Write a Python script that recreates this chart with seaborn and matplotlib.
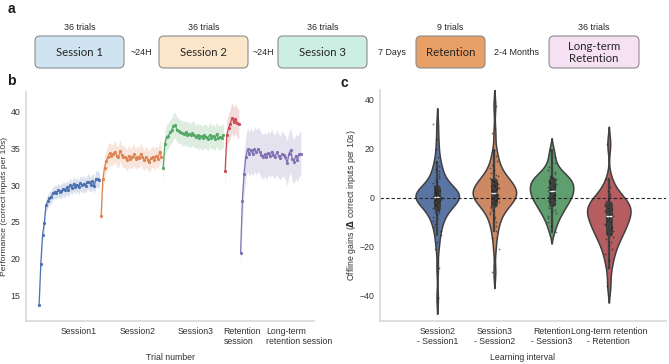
import numpy as np
import pandas as pd
import seaborn as sns
import matplotlib.pyplot as plt
from matplotlib.patches import FancyBboxPatch

# ---- panel a: protocol ----
stage_names = ["Session 1", "Session 2", "Session 3", "Retention", "Long-term\nRetention"]
stage_trials = ["36 trials", "36 trials", "36 trials", "9 trials", "36 trials"]
stage_colors = ["#cfe3f0", "#fbe6c9", "#cdeee3", "#e8a066", "#f5e1f3"]
gap_labels = ["~24H", "~24H", "7 Days", "2-4 Months"]

# ---- panel b: mean performance per trial and CI half-width ----
session_names = ["Session1", "Session2", "Session3", "Retention", "Long-term"]
s1_mean = [13.6, 19.3, 23.2, 24.8, 27.3, 27.8, 28.2, 28.4, 28.9, 29.1, 29.0, 29.3,
           29.1, 29.2, 29.5, 29.3, 29.7, 29.4, 30.0, 29.6, 30.2, 29.8, 30.1, 29.7,
           30.3, 30.0, 30.2, 29.9, 30.5, 30.4, 30.1, 30.6, 29.9, 30.9, 30.8, 30.7]
s2_mean = [25.8, 30.8, 32.4, 33.3, 33.9, 34.4, 34.0, 34.3, 34.6, 34.0, 33.8, 34.7,
           34.1, 33.9, 33.8, 33.4, 34.0, 33.6, 33.8, 34.2, 33.6, 33.9, 33.7, 34.3,
           33.8, 33.4, 33.9, 33.5, 33.2, 33.7, 33.9, 33.5, 34.0, 33.6, 34.6, 33.9]
s3_mean = [32.4, 35.6, 36.6, 36.7, 37.2, 37.5, 38.1, 38.2, 37.6, 37.4, 37.3, 37.1,
           37.0, 37.2, 36.9, 37.0, 36.8, 37.1, 36.9, 36.6, 36.8, 36.5, 36.7, 36.4,
           36.8, 36.6, 36.3, 36.9, 36.5, 36.7, 36.3, 37.0, 36.4, 36.6, 36.5, 36.9]
ret_mean = [32.0, 36.9, 37.8, 38.4, 39.2, 38.6, 39.1, 38.5, 38.3]
lt_mean = [20.8, 27.9, 31.6, 33.8, 34.9, 34.2, 34.8, 34.3, 34.9, 34.5, 34.9, 34.6,
           34.1, 33.9, 34.2, 33.8, 34.4, 34.0, 34.6, 34.1, 33.9, 34.5, 34.0, 33.7,
           34.3, 34.1, 33.8, 33.0, 34.2, 34.8, 33.6, 33.2, 34.0, 33.5, 34.2, 34.3]

s1_hw = [0.7, 0.9, 1.0, 1.0, 0.9, 0.9, 0.9, 0.9, 0.9, 0.9, 0.9, 0.9, 0.9, 1.0, 0.9, 1.0,
         0.9, 1.0, 1.0, 0.9, 1.0, 1.0, 0.9, 1.0, 1.0, 1.0, 1.1, 1.0, 1.0, 1.1, 1.0, 1.1,
         1.0, 1.2, 1.1, 1.1]
s2_hw = [1.4, 1.5, 1.5, 1.5, 1.6, 1.5, 1.5, 1.4, 1.5, 1.4, 1.5, 1.5, 1.4, 1.5, 1.4, 1.5,
         1.5, 1.4, 1.5, 1.5, 1.4, 1.5, 1.4, 1.5, 1.5, 1.4, 1.5, 1.4, 1.5, 1.4, 1.5, 1.5,
         1.4, 1.5, 1.5, 1.4]
s3_hw = [2.0, 1.8, 1.7, 1.7, 1.7, 1.7, 1.8, 1.7, 1.7, 1.7, 1.6, 1.7, 1.7, 1.6, 1.7, 1.7,
         1.6, 1.7, 1.7, 1.6, 1.7, 1.7, 1.6, 1.7, 1.6, 1.7, 1.6, 1.7, 1.6, 1.7, 1.6, 1.7,
         1.6, 1.7, 1.6, 1.7]
ret_hw = [2.2, 2.0, 2.0, 2.0, 2.1, 2.0, 2.0, 2.0, 2.0]
lt_hw = [2.3, 2.6, 2.8, 2.9, 3.0, 3.0, 3.1, 3.0, 3.0, 3.1, 3.0, 3.0, 3.1, 3.0, 3.0, 3.1,
         3.0, 3.0, 3.1, 3.0, 3.0, 3.1, 3.0, 3.0, 3.1, 3.0, 3.0, 3.1, 3.0, 3.0, 3.1, 3.0,
         3.0, 3.1, 3.0, 3.0]

b_ticks = [24, 58, 92, 119, 152]
b_ticklabels = ["Session1", "Session2", "Session3", "Retention\nsession",
                "Long-term\nretention session"]

# ---- panel c: offline gains per participant ----
interval_labels = ["Session2\n- Session1", "Session3\n- Session2",
                   "Retention\n- Session3", "Long-term retention\n- Retention"]
gain_s2_s1 = [-41.0, -29.0, -21.0, -18.0, -15.5, -13.5, -12.0, -10.8, -9.7, -8.8, -8.0,
              -7.2, -6.5, -5.9, -5.3, -4.8, -4.3, -3.9, -3.5, -3.1, -2.7, -2.4, -2.1,
              -1.8, -1.5, -1.2, -1.0, -0.8, -0.6, -0.4, -0.2, 0.0, 0.2, 0.4, 0.6, 0.8,
              1.0, 1.2, 1.4, 1.6, 1.8, 2.0, 2.2, 2.4, 2.6, 2.8, 3.0, 3.3, 3.6, 3.9,
              4.3, 4.8, 5.3, 5.9, 6.5, 7.2, 8.0, 8.8, 9.7, 10.7, 11.8, 13.0, 14.5,
              16.5, 20.0, 24.0, 30.0]
gain_s3_s2 = [-30.5, -21.0, -16.5, -13.8, -11.8, -10.2, -8.9, -7.8, -6.8, -5.9, -5.1,
              -4.4, -3.8, -3.3, -2.8, -2.4, -2.0, -1.6, -1.3, -1.0, -0.7, -0.4, -0.1,
              0.2, 0.5, 0.8, 1.0, 1.3, 1.6, 1.9, 2.2, 2.5, 2.8, 3.1, 3.4, 3.7, 4.0, 4.3,
              4.6, 4.9, 5.2, 5.6, 6.0, 6.4, 6.8, 7.2, 7.6, 8.1, 8.7, 9.4, 10.2, 11.1,
              12.2, 13.5, 15.0, 17.0, 19.5, 26.5, 37.5]
gain_ret_s3 = [-14.0, -11.5, -9.8, -8.5, -7.4, -6.5, -5.7, -5.0, -4.3, -3.6, -3.0, -2.5,
               -2.0, -1.5, -1.0, -0.5, 0.0, 0.4, 0.8, 1.2, 1.6, 2.0, 2.4, 2.8, 3.2, 3.6,
               4.0, 4.4, 4.8, 5.2, 5.6, 6.0, 6.4, 6.8, 7.2, 7.6, 8.0, 8.5, 9.0, 9.6,
               10.3, 11.2, 12.4, 14.0, 16.5, 19.5]
gain_lt_ret = [-36.0, -29.0, -25.5, -23.0, -21.0, -19.5, -18.2, -17.0, -16.0, -15.1,
               -14.3, -13.5, -12.8, -12.1, -11.4, -10.7, -10.1, -9.5, -8.9, -8.3, -7.7,
               -7.1, -6.6, -6.1, -5.6, -5.1, -4.6, -4.1, -3.6, -3.1, -2.6, -2.1, -1.6,
               -1.0, -0.3, 0.5, 1.5, 2.8, 4.5, 7.5, 22.0]

sns.set_theme(style="white")
plt.rcParams["font.family"] = ["Liberation Sans", "DejaVu Sans"]
plt.rcParams["axes.edgecolor"] = "0.85"
plt.rcParams["text.color"] = "0.2"
plt.rcParams["xtick.color"] = "0.2"
plt.rcParams["ytick.color"] = "0.2"
plt.rcParams["axes.labelcolor"] = "0.2"
deep = sns.color_palette("deep")

W, H = 669, 364
fig = plt.figure(figsize=(W / 100, H / 100), dpi=100)

# panel a drawn in pixel coordinates
ax_a = fig.add_axes([0, 0, 1, 1])
ax_a.set_xlim(0, W)
ax_a.set_ylim(H, 0)
ax_a.set_axis_off()
box_x = [(35, 124), (159, 248), (278, 367), (416, 485), (549, 639)]
for (x0, x1), name, trials, col in zip(box_x, stage_names, stage_trials, stage_colors):
    ax_a.add_patch(FancyBboxPatch((x0, 36), x1 - x0, 32,
                                  boxstyle="round,pad=0,rounding_size=5",
                                  fc=col, ec="0.55", lw=0.8))
    ax_a.text((x0 + x1) / 2, 52.5, name, ha="center", va="center", fontsize=8.2,
              family="Lato", color="0.15", linespacing=1.15)
    ax_a.text((x0 + x1) / 2, 27, trials, ha="center", va="center", fontsize=6.4,
              color="0.15")
for i, g in enumerate(gap_labels):
    cx = (box_x[i][1] + box_x[i + 1][0]) / 2
    ax_a.text(cx, 52.5, g, ha="center", va="center", fontsize=6.4, color="0.15")
for lab, (x, y) in zip("abc", [(11, 9), (11, 81), (344, 83)]):
    ax_a.text(x, y, lab, ha="center", va="center", fontsize=10, fontweight="bold",
              color="k")

# panel b
means = [s1_mean, s2_mean, s3_mean, ret_mean, lt_mean]
hws = [s1_hw, s2_hw, s3_hw, ret_hw, lt_hw]
rows = []
start = 1
for name, m, hw in zip(session_names, means, hws):
    for k, (v, h) in enumerate(zip(m, hw)):
        rows.append({"trial": start + k, "perf": v, "hw": h, "session": name})
    start += len(m)
df_b = pd.DataFrame(rows)

ax_b = fig.add_axes([26 / W, 1 - 321 / H, 288 / W, 229 / H])
for i, name in enumerate(session_names):
    d = df_b[df_b["session"] == name]
    ax_b.fill_between(d["trial"], d["perf"] - d["hw"], d["perf"] + d["hw"],
                      color=deep[i], alpha=0.2, lw=0)
sns.lineplot(data=df_b, x="trial", y="perf", hue="session", palette=deep[:5],
             marker="o", markersize=2.3, markeredgewidth=0, linewidth=0.9,
             errorbar=None, legend=False, ax=ax_b)
ax_b.set_xticks(b_ticks)
ax_b.set_xticklabels(b_ticklabels)
for t in ax_b.get_xticklabels():
    t.set_multialignment("left")
ax_b.tick_params(labelsize=6.3, length=0, pad=4)
ax_b.set_xlabel("Trial number", fontsize=6.3, labelpad=5)
ax_b.set_ylabel("Performance (correct inputs per 10s)", fontsize=6.1, labelpad=1.5)
sns.despine(ax=ax_b)

# panel c
df_c = pd.DataFrame({
    "interval": sum([[lab] * len(v) for lab, v in
                     zip(interval_labels, [gain_s2_s1, gain_s3_s2, gain_ret_s3, gain_lt_ret])], []),
    "gain": gain_s2_s1 + gain_s3_s2 + gain_ret_s3 + gain_lt_ret,
})
ax_c = fig.add_axes([380 / W, 1 - 321 / H, 286 / W, 231 / H])
sns.violinplot(data=df_c, x="interval", y="gain", hue="interval", palette=deep[:4],
               inner="box", linecolor="0.25", linewidth=1.1, bw_adjust=0.7,
               density_norm="width", width=0.76, legend=False, ax=ax_c)
np.random.seed(3)
sns.stripplot(data=df_c, x="interval", y="gain", color="k", size=1.3, alpha=0.55,
              jitter=0.08, ax=ax_c)
ax_c.axhline(0, color="0.15", ls="--", lw=0.8, dashes=(3, 2))
ax_c.set_xlim(-1, 4)
ax_c.set_ylim(-50.5, 44)
ax_c.set_yticks([-40, -20, 0, 20, 40])
ax_c.tick_params(labelsize=6.3, length=0, pad=4)
ax_c.set_xlabel("Learning interval", fontsize=6.3, labelpad=5)
ax_c.set_ylabel(r"Offline gains ($\mathbf{\Delta}$ correct inputs per 10s)",
                fontsize=6.3, labelpad=1)
sns.despine(ax=ax_c)

fig.savefig("out.png", dpi=100)
